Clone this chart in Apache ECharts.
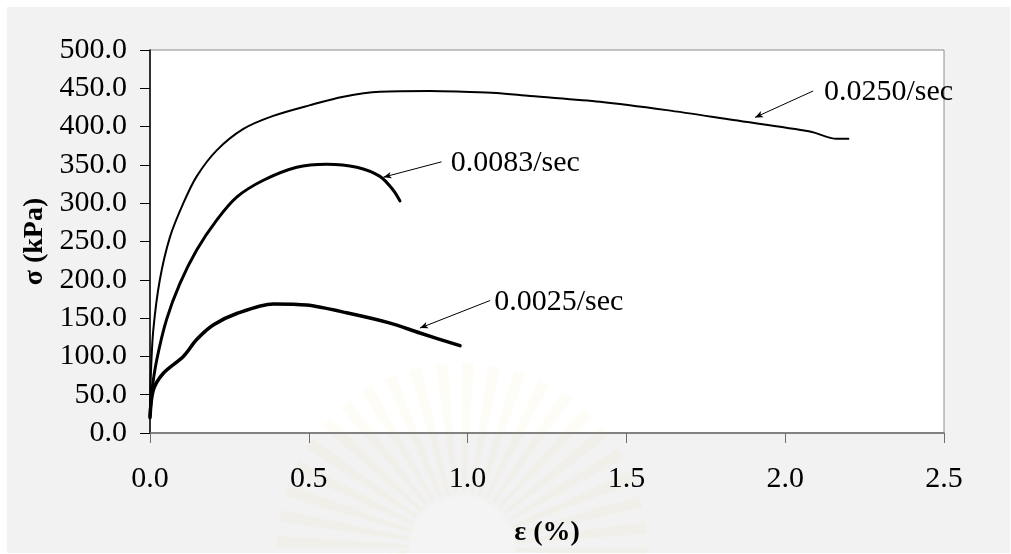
<!DOCTYPE html>
<html>
<head>
<meta charset="utf-8">
<script src="https://cdn.jsdelivr.net/npm/echarts@6/dist/echarts.min.js"></script>
<style>
  html, body { margin: 0; padding: 0; background: #ffffff; }
  #chart { width: 1011px; height: 554px; }
</style>
</head>
<body>
<div id="chart"></div>
<script>
// Stress–strain curves at three strain rates
const strainRate0250 = [0, 0.003, 0.0105, 0.031, 0.063, 0.105, 0.147, 0.21, 0.294, 0.388, 0.504, 0.609, 0.724, 0.882, 0.986, 1.09, 1.197, 1.417, 1.627, 1.837, 2.078, 2.162, 2.199];
const stressRate0250 = [25, 80, 135, 200, 256, 300, 335, 369, 397, 414, 428, 439, 445.5, 446.5, 445.5, 444, 440, 432.5, 421.5, 408.5, 393.5, 384, 384];

const strainRate0083 = [0, 0.006, 0.021, 0.052, 0.094, 0.147, 0.21, 0.273, 0.357, 0.462, 0.556, 0.651, 0.724, 0.766, 0.787];
const stressRate0083 = [22, 55, 95, 148, 195, 239, 278, 308, 330, 347, 351, 347, 335, 317, 303];

const strainRate0025 = [0, 0.0105, 0.042, 0.105, 0.147, 0.199, 0.273, 0.388, 0.493, 0.619, 0.756, 0.85, 0.976];
const stressRate0025 = [20, 56, 78, 100, 122, 141, 156, 168.5, 167, 157, 143.5, 130.5, 114];

// Curve labels with their leader arrows (data coordinates: strain %, stress kPa)
const rateLabels = ['0.0250/sec', '0.0083/sec', '0.0025/sec'];
const arrowFrom  = [[2.088, 446.5], [0.918, 354], [1.071, 173]];
const arrowTo    = [[1.905, 412], [0.735, 334], [0.85, 137]];
const labelAt    = [[2.122, 445.6], [0.947, 352.2], [1.084, 170.3]];

// Axis ranges
const xMin = 0, xMax = 2.5, xStep = 0.5;
const yMin = 0, yMax = 500, yStep = 50;

const serif = "'Liberation Serif', 'Times New Roman', serif";

function pairs(xs, ys) { return xs.map((x, i) => [x, ys[i]]); }

function curve(xs, ys, width, idx) {
  return {
    type: 'line',
    z: 6,
    data: pairs(xs, ys),
    smooth: 0.3,
    showSymbol: false,
    symbol: 'none',
    lineStyle: { color: '#000', width: width, cap: 'round', join: 'round' },
    silent: true,
    markLine: {
      silent: true,
      symbol: ['none', 'arrow'],
      symbolSize: [5, 8],
      lineStyle: { color: '#000', width: 1, type: 'solid' },
      label: { show: false },
      data: [[{ coord: arrowFrom[idx] }, { coord: arrowTo[idx] }]]
    },
    markPoint: {
      silent: true,
      symbol: 'circle',
      symbolSize: 0,
      label: {
        show: true, position: 'right', distance: 0,
        color: '#000', fontFamily: serif, fontSize: 30,
        formatter: rateLabels[idx]
      },
      data: [{ coord: labelAt[idx] }]
    }
  };
}

// Faint emblem watermark: a fan of thin rays round a pale disc
function emblem(cx, cy) {
  const parts = [];
  const rays = 44;
  for (let k = 0; k < rays; k++) {
    const a0 = (k / rays) * Math.PI * 2;
    parts.push({
      type: 'sector', silent: true, z: 1,
      shape: { cx: cx, cy: cy, r0: 55, r: 185, startAngle: a0, endAngle: a0 + Math.PI * 2 / rays * 0.45 },
      style: { fill: 'rgba(236, 208, 130, 0.07)' }
    });
  }
  parts.push({
    type: 'circle', silent: true, z: 1,
    shape: { cx: cx, cy: cy, r: 52 },
    style: { fill: 'rgba(255, 255, 255, 0.2)' }
  });
  return parts;
}

const chart = echarts.init(document.getElementById('chart'), null, { renderer: 'canvas' });

chart.setOption({
  animation: false,
  backgroundColor: '#ffffff',
  graphic: [{
    type: 'rect', z: -10, silent: true,
    shape: { x: 7, y: 7, width: 1003, height: 546 },
    style: { fill: '#f2f2f2' }
  }].concat(emblem(462, 548)),
  grid: {
    left: 150, top: 50, right: 67, bottom: 121,
    show: true, backgroundColor: '#ffffff', borderColor: '#8c8c8c', borderWidth: 1
  },
  xAxis: {
    type: 'value', min: xMin, max: xMax, interval: xStep, z: 5,
    name: 'ε (%)', nameLocation: 'middle', nameGap: 86,
    nameTextStyle: { fontFamily: serif, fontSize: 28, fontWeight: 'bold', color: '#000' },
    axisLine: { show: true, onZero: false, lineStyle: { color: '#6e6e6e', width: 1.5 } },
    axisTick: { show: true, inside: false, length: 10, lineStyle: { color: '#6e6e6e', width: 1 } },
    axisLabel: { margin: 31, fontFamily: serif, fontSize: 30, color: '#000',
      formatter: v => v.toFixed(1) },
    splitLine: { show: false }
  },
  yAxis: {
    type: 'value', min: yMin, max: yMax, interval: yStep, z: 5,
    name: 'σ (kPa)', nameLocation: 'middle', nameGap: 100, nameRotate: 90,
    nameTextStyle: { fontFamily: serif, fontSize: 28, fontWeight: 'bold', color: '#000' },
    axisLine: { show: true, onZero: false, lineStyle: { color: '#000', width: 1.5 } },
    axisTick: { show: true, inside: false, length: 10, lineStyle: { color: '#000', width: 1 } },
    axisLabel: { margin: 23, fontFamily: serif, fontSize: 30, color: '#000',
      formatter: v => v.toFixed(1) },
    splitLine: { show: false }
  },
  series: [
    curve(strainRate0250, stressRate0250, 2, 0),
    curve(strainRate0083, stressRate0083, 3, 1),
    curve(strainRate0025, stressRate0025, 3.5, 2)
  ]
});
</script>
</body>
</html>
